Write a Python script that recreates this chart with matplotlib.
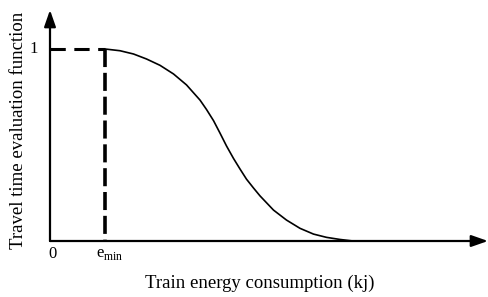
import matplotlib
matplotlib.use("Agg")
import matplotlib.pyplot as plt

# Data: x in arbitrary energy units, y = evaluation value
energy = [1.1, 1.4, 1.67, 1.93, 2.2, 2.47, 2.73, 3.0, 3.13, 3.27, 3.4, 3.53, 3.67,
          3.8, 3.93, 4.07, 4.2, 4.47, 4.73, 5.0, 5.27, 5.53, 5.8, 6.06]
evaluation = [1.0, 0.991, 0.974, 0.948, 0.915, 0.87, 0.813, 0.734, 0.685, 0.627, 0.562,
              0.495, 0.43, 0.375, 0.322, 0.276, 0.235, 0.161, 0.109, 0.066, 0.036,
              0.019, 0.008, 0.0]
e_min = 1.1
x_tick_labels = ["0", "e$_{\\mathrm{min}}$"]
y_tick_label = "1"

plt.rcParams['font.family'] = ['Liberation Serif', 'DejaVu Serif']
plt.rcParams['mathtext.fontset'] = 'custom'
plt.rcParams['mathtext.rm'] = 'Liberation Serif'

fig = plt.figure(figsize=(4.88, 2.97), dpi=100)
ax = fig.add_axes([50/488, 56/297, 438/488, 231/297])
xmax, ymax = 438/50, 231/192
ax.set_xlim(0, xmax)
ax.set_ylim(0, ymax)
for s in ax.spines.values():
    s.set_visible(False)
ax.set_xticks([])
ax.set_yticks([])

# axes with arrows
arrow = dict(arrowstyle="-|>,head_length=1.0,head_width=0.35", lw=1.6, color="black",
             shrinkA=0, shrinkB=0)
ax.annotate("", xy=(xmax, 0), xytext=(0, 0), arrowprops=arrow, annotation_clip=False)
ax.annotate("", xy=(0, ymax), xytext=(0, 0), arrowprops=arrow, annotation_clip=False)

# curve
ax.plot(energy, evaluation, color="black", lw=1.2, solid_capstyle="butt",
        solid_joinstyle="round")

# dashed guides
ax.plot([0, e_min], [1, 1], color="black", lw=2.2, dashes=(5, 2.8))
ax.plot([e_min, e_min], [1, 0], color="black", lw=2.6, dashes=(5, 1.6))

# labels
ax.text(-0.25, 1.0, y_tick_label, ha="right", va="center", fontsize=12)
ax.text(-0.04, -0.025, x_tick_labels[0], ha="left", va="top", fontsize=12)
ax.text(e_min + 0.1, -0.025, x_tick_labels[1], ha="center", va="top", fontsize=12)
fig.text(260/488, 1 - 283/297, "Train energy consumption (kj)", ha="center", va="center", fontsize=13.5)
fig.text(19/488, 1 - 130/297, "Travel time evaluation function", ha="center", va="center",
         rotation=90, fontsize=13.5)

fig.savefig("out.png", dpi=100)
